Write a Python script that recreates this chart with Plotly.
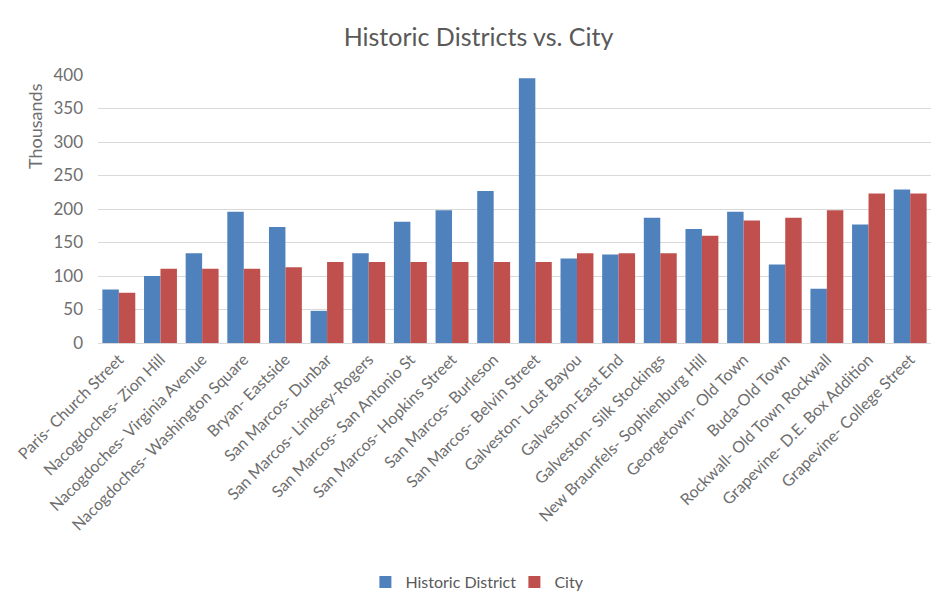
import plotly.graph_objects as go

# Data
districts = [
    "Paris- Church Street", "Nacogdoches- Zion Hill", "Nacogdoches- Virginia Avenue",
    "Nacogdoches- Washington Square", "Bryan- Eastside", "San Marcos- Dunbar",
    "San Marcos- Lindsey-Rogers", "San Marcos- San Antonio St", "San Marcos- Hopkins Street",
    "San Marcos- Burleson", "San Marcos- Belvin Street", "Galveston- Lost Bayou",
    "Galveston-East End", "Galveston- Silk Stockings", "New Braunfels- Sophienburg Hill",
    "Georgetown- Old Town", "Buda-Old Town", "Rockwall- Old Town Rockwall",
    "Grapevine- D.E. Box Addition", "Grapevine- College Street",
]
historic_district = [80, 100, 134, 196, 173, 48, 134, 181, 198, 227,
                     395, 126, 132, 187, 170, 196, 117, 81, 177, 229]
city = [75, 111, 111, 111, 113, 121, 121, 121, 121, 121,
        121, 134, 134, 134, 160, 183, 187, 198, 223, 223]

gray = "#595959"
light_gray = "#6e6e6e"
font_name = "Lato, 'Open Sans', sans-serif"

fig = go.Figure()
fig.add_trace(go.Bar(x=districts, y=historic_district, name="Historic District",
                     marker=dict(color="#4F81BD", line=dict(width=0))))
fig.add_trace(go.Bar(x=districts, y=city, name="City",
                     marker=dict(color="#C0504D", line=dict(width=0))))

fig.update_layout(
    width=941, height=609,
    barmode="group", bargap=0.21, bargroupgap=0,
    title=dict(text="Historic Districts vs. City", x=0.5, xanchor="center",
               y=0.952, yanchor="middle", font=dict(size=25, color=gray, family=font_name)),
    font=dict(family=font_name, color=gray),
    plot_bgcolor="white", paper_bgcolor="white",
    margin=dict(l=90, r=18, t=67, b=274),
    legend=dict(orientation="h", x=0.321, xanchor="left", y=-0.892, yanchor="middle",
                font=dict(size=16, color=gray, family=font_name), itemwidth=30,
                entrywidth=104, entrywidthmode="pixels"),
    xaxis=dict(tickangle=-45, tickfont=dict(size=16, color=light_gray), automargin=False,
               showline=True, linecolor="#D9D9D9", ticks=""),
    yaxis=dict(range=[0, 400], dtick=50, tickfont=dict(size=17, color=light_gray),
               gridcolor="#D9D9D9", zeroline=False, automargin=False, ticklabelstandoff=14),
)

# Excel-style axis title, sitting near the top of the axis
fig.add_annotation(text="Thousands", xref="paper", yref="paper", x=-0.075, y=0.808,
                   xanchor="center", yanchor="middle", textangle=-90, showarrow=False,
                   font=dict(size=18, color=light_gray))

fig.write_html("out.html")
